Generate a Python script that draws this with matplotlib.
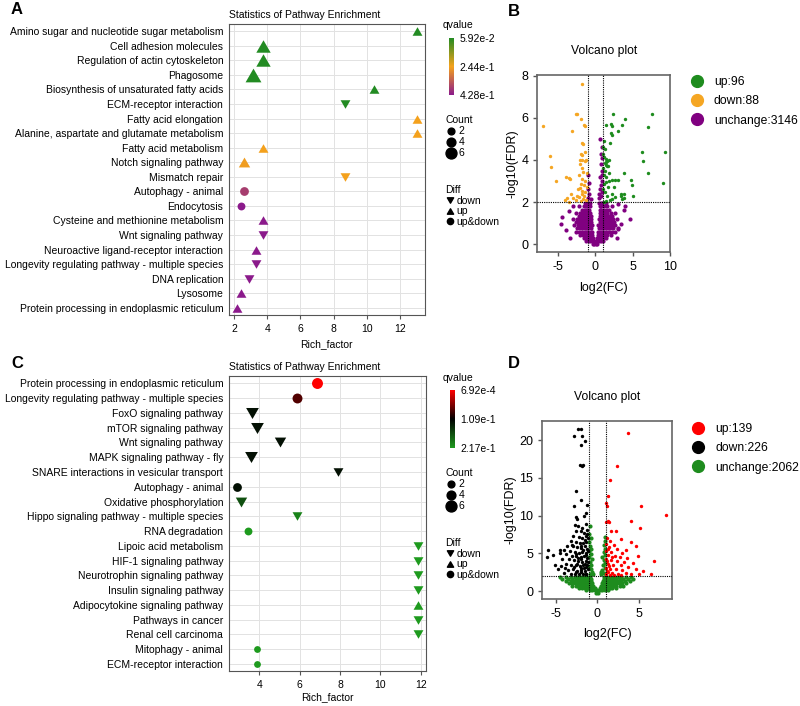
import matplotlib
matplotlib.use("Agg")
import numpy as np
import matplotlib.pyplot as plt
from matplotlib.colors import LinearSegmentedColormap, Normalize
from matplotlib.cm import ScalarMappable
from matplotlib.lines import Line2D
from matplotlib.path import Path

plt.rcParams['font.family'] = ['Liberation Sans', 'DejaVu Sans']
plt.rcParams['axes.unicode_minus'] = False

# -----------------------------
# A: pathway enrichment (group 1)
# -----------------------------
a_pathways = ["Amino sugar and nucleotide sugar metabolism", "Cell adhesion molecules",
              "Regulation of actin cytoskeleton", "Phagosome",
              "Biosynthesis of unsaturated fatty acids", "ECM-receptor interaction",
              "Fatty acid elongation", "Alanine, aspartate and glutamate metabolism",
              "Fatty acid metabolism", "Notch signaling pathway", "Mismatch repair",
              "Autophagy - animal", "Endocytosis", "Cysteine and methionine metabolism",
              "Wnt signaling pathway", "Neuroactive ligand-receptor interaction",
              "Longevity regulating pathway - multiple species", "DNA replication",
              "Lysosome", "Protein processing in endoplasmic reticulum"]
a_rich = [13.0, 3.77, 3.77, 3.16, 10.4, 8.7, 13.0, 13.0, 3.77, 2.6, 8.7,
          2.6, 2.4, 3.77, 3.77, 3.3, 3.3, 2.92, 2.4, 2.18]
a_qvalue = [0.0592, 0.0592, 0.0592, 0.0592, 0.0592, 0.0592, 0.244, 0.244, 0.244, 0.25, 0.244,
            0.38, 0.428, 0.428, 0.428, 0.428, 0.428, 0.428, 0.428, 0.428]
a_count = [2, 5, 5, 6, 2, 2, 2, 2, 2, 3, 2, 4, 3, 2, 2, 2, 2, 2, 2, 2]
a_diff = ["up", "up", "up", "up", "up", "down", "up", "up", "up", "up", "down",
          "up&down", "up&down", "up", "down", "up", "down", "down", "up", "up"]

# -----------------------------
# C: pathway enrichment (group 2)
# -----------------------------
c_pathways = ["Protein processing in endoplasmic reticulum",
              "Longevity regulating pathway - multiple species", "FoxO signaling pathway",
              "mTOR signaling pathway", "Wnt signaling pathway", "MAPK signaling pathway - fly",
              "SNARE interactions in vesicular transport", "Autophagy - animal",
              "Oxidative phosphorylation", "Hippo signaling pathway - multiple species",
              "RNA degradation", "Lipoic acid metabolism", "HIF-1 signaling pathway",
              "Neurotrophin signaling pathway", "Insulin signaling pathway",
              "Adipocytokine signaling pathway", "Pathways in cancer", "Renal cell carcinoma",
              "Mitophagy - animal", "ECM-receptor interaction"]
c_rich = [6.87, 5.85, 3.62, 3.9, 5.02, 3.6, 7.88, 2.9, 3.1, 5.85, 3.45,
          11.87, 11.87, 11.87, 11.87, 11.87, 11.87, 11.87, 3.89, 3.89]
c_qvalue = [0.0007, 0.075, 0.12, 0.12, 0.12, 0.12, 0.12, 0.12, 0.165, 0.2, 0.217,
            0.217, 0.217, 0.217, 0.217, 0.217, 0.217, 0.217, 0.217, 0.217]
c_count = [6, 5, 4, 4, 3, 4, 2, 4, 3, 2, 3, 2, 2, 2, 2, 2, 2, 2, 2, 2]
c_diff = ["up&down", "up&down", "down", "down", "down", "down", "down", "up&down", "down",
          "down", "up&down", "down", "down", "down", "down", "up", "down", "down",
          "up&down", "up&down"]

# -----------------------------
# B: volcano plot (group 1)
# -----------------------------
b_up = [(2.4, 6.19), (7.6, 6.19), (4.0, 5.96), (1.4, 5.64), (2.1, 5.7), (2.2, 5.6), (3.6, 5.64),
        (3.0, 5.36), (2.1, 5.3), (2.2, 5.2), (7.0, 5.56), (1.2, 4.9), (2.0, 4.8), (6.2, 4.37),
        (9.3, 4.37), (6.4, 3.95), (1.0, 4.3), (1.2, 4.15), (1.4, 4.05), (1.6, 3.95), (1.8, 3.98),
        (1.3, 3.85), (1.5, 3.75), (1.7, 3.7), (7.0, 3.38), (3.9, 3.38), (1.4, 3.9), (1.6, 3.7),
        (1.3, 3.5), (1.9, 3.4), (1.2, 3.3), (1.5, 3.2), (3.0, 3.05), (2.6, 3.05), (2.2, 3.05),
        (1.9, 3.0), (1.4, 2.95), (1.2, 2.85), (4.8, 3.05), (9.0, 2.9), (4.9, 2.8), (2.2, 2.4),
        (2.7, 2.25), (1.6, 2.3), (2.3, 2.15), (2.0, 2.1), (1.4, 2.05), (1.2, 2.0), (5.0, 2.27),
        (3.5, 2.27), (3.8, 2.2), (3.6, 2.15), (3.4, 2.4), (3.9, 2.38), (1.1, 2.6), (1.3, 2.5),
        (1.1, 3.6), (1.7, 2.7), (2.5, 2.7), (1.05, 4.6), (1.3, 4.5)]
b_down = [(-1.7, 7.6), (-2.6, 6.19), (-2.4, 6.19), (-1.9, 5.96), (-7.0, 5.59), (-3.15, 5.36),
          (-1.5, 5.64), (-1.4, 5.6), (-1.8, 4.8), (-1.6, 4.75), (-1.3, 4.4), (-6.0, 4.2),
          (-1.9, 4.3), (-1.7, 4.25), (-2.0, 3.98), (-1.7, 4.0), (-1.4, 3.95), (-1.2, 3.98),
          (-5.9, 3.66), (-3.9, 3.2), (-3.5, 3.15), (-3.3, 3.1), (-5.2, 3.0), (-2.0, 3.8),
          (-1.8, 3.6), (-1.6, 3.45), (-2.1, 3.3), (-1.7, 3.1), (-1.35, 3.0), (-1.9, 2.85),
          (-1.5, 2.8), (-2.0, 2.65), (-1.7, 2.55), (-1.3, 2.5), (-1.8, 2.4), (-1.45, 2.3),
          (-2.1, 2.25), (-1.6, 2.15), (-1.25, 2.1), (-1.9, 2.05), (-4.0, 2.1), (-3.7, 2.2),
          (-3.2, 2.4), (-3.0, 2.2), (-3.5, 2.0), (-2.4, 2.3), (-2.6, 2.1), (-1.1, 2.7),
          (-1.15, 3.4), (-2.3, 2.6)]
b_unch_rows_y = [0.0, 0.15, 0.3, 0.45, 0.6, 0.75, 0.9, 1.05, 1.2, 1.35, 1.5, 1.65, 1.8, 1.95]
b_unch_rows_x = [
    [-0.3, -0.1, 0.1, 0.3],
    [-1.2, -0.8, -0.5, -0.25, 0, 0.25, 0.5, 0.8, 1.1],
    [-1.5, -1.1, -0.8, -0.5, -0.3, 0.3, 0.5, 0.8, 1.1, 1.5],
    [-2.0, -1.6, -1.3, -1.0, -0.7, -0.45, 0.45, 0.7, 1.0, 1.3, 1.6, 2.1],
    [-2.6, -2.2, -1.8, -1.5, -1.2, -0.9, -0.6, -0.35, 0.35, 0.6, 0.9, 1.2, 1.5, 1.8, 2.2, 2.6],
    [-2.4, -2.0, -1.7, -1.4, -1.1, -0.8, -0.5, 0.5, 0.8, 1.1, 1.4, 1.7, 2.0, 2.4, 3.0],
    [-2.8, -2.3, -1.9, -1.6, -1.3, -1.0, -0.7, -0.45, 0.45, 0.7, 1.0, 1.3, 1.6, 1.9, 2.3, 2.7],
    [-2.6, -2.1, -1.8, -1.5, -1.2, -0.9, -0.6, 0.6, 0.9, 1.2, 1.5, 1.8, 2.1, 2.5],
    [-2.9, -2.4, -2.0, -1.7, -1.4, -1.1, -0.8, -0.55, 0.55, 0.8, 1.1, 1.4, 1.7, 2.0, 2.4, 2.9],
    [-2.2, -1.8, -1.5, -1.2, -0.9, -0.6, 0.6, 0.9, 1.2, 1.5, 1.9, 2.3],
    [-2.6, -2.0, -1.6, -1.3, -1.0, -0.7, 0.7, 1.0, 1.3, 1.6, 2.1, 2.7],
    [-1.8, -1.4, -1.1, -0.8, 0.6, 0.85, 1.1, 1.5, 1.9],
    [-2.2, -1.5, -1.2, -0.9, -0.65, 0.6, 0.85, 1.2, 1.6, 2.3],
    [-1.3, -0.95, -0.7, 0.5, 0.75, 0.95, 1.4],
]
b_unch_extra = [(-4.5, 0.98), (-3.9, 0.7), (-3.5, 1.58), (3.0, 0.74), (4.0, 1.8), (3.8, 1.62),
                (3.0, 1.9), (-3.3, 0.3), (2.9, 0.3), (-4.4, 1.3), (4.6, 1.2), (3.5, 0.95),
                (-3.0, 1.8), (-0.9, 2.2), (-0.75, 2.4), (-0.95, 2.6), (-0.8, 2.9), (-0.6, 2.15),
                (-0.9, 3.3), (0.5, 2.2), (0.8, 2.3), (0.95, 2.5), (0.6, 2.6), (0.85, 2.8),
                (0.95, 3.0), (0.7, 3.2), (0.9, 3.5), (0.8, 3.8), (0.95, 4.1), (0.75, 4.3),
                (0.9, 4.6), (0.7, 5.0), (0.95, 3.3), (0.5, 2.4)]
b_labels = ["up:96", "down:88", "unchange:3146"]

# -----------------------------
# D: volcano plot (group 2)
# -----------------------------
d_up = [(3.7, 20.9), (2.4, 16.6), (1.5, 14.7), (1.3, 12.6), (1.1, 11.6), (1.2, 11.3), (5.2, 11.3),
        (8.2, 10.1), (4.1, 9.3), (1.1, 9.2), (1.3, 9.3), (1.4, 9.1), (5.1, 8.3), (2.3, 8.0),
        (1.6, 8.0), (4.0, 6.5), (4.6, 6.0), (6.8, 4.0), (5.5, 2.7), (6.4, 2.2), (3.5, 5.5),
        (4.9, 4.6), (2.8, 6.9), (1.2, 7.0), (1.5, 6.6), (1.1, 6.2), (2.0, 6.1), (1.4, 5.8),
        (2.4, 5.6), (1.1, 5.3), (1.7, 5.2), (3.0, 5.1), (1.3, 4.8), (2.1, 4.7), (2.7, 4.5),
        (3.6, 4.4), (1.1, 4.3), (1.6, 4.1), (2.4, 4.0), (3.2, 3.9), (4.3, 3.7), (1.3, 3.6),
        (1.9, 3.5), (2.8, 3.4), (3.7, 3.2), (1.1, 3.1), (1.5, 2.9), (2.2, 2.9), (3.0, 2.8),
        (4.6, 2.9), (1.3, 2.5), (1.8, 2.4), (2.5, 2.3), (3.4, 2.4), (4.0, 2.2), (1.1, 2.2),
        (1.5, 2.1), (2.0, 2.15), (2.9, 2.1), (5.0, 2.3), (1.2, 4.0), (1.4, 3.3), (1.2, 2.7),
        (1.8, 4.5), (1.25, 5.6)]
d_down = [(-2.3, 21.5), (-2.0, 21.5), (-2.85, 20.6), (-1.8, 20.6), (-1.5, 19.9), (-1.9, 19.3),
          (-2.1, 16.7), (-1.7, 16.7), (-1.8, 16.6), (-2.5, 13.2), (-1.9, 12.0), (-2.8, 11.2),
          (-1.25, 11.4), (-2.6, 9.8), (-2.4, 9.5), (-1.6, 9.9), (-1.3, 10.3), (-2.7, 8.8),
          (-2.3, 8.6), (-1.8, 8.4), (-1.4, 8.9), (-2.5, 8.0), (-2.0, 7.9), (-1.6, 7.7),
          (-1.2, 8.1), (-2.9, 7.3), (-2.2, 7.2), (-1.8, 7.0), (-1.4, 7.3), (-1.1, 7.0),
          (-3.2, 6.6), (-2.6, 6.5), (-2.1, 6.4), (-1.7, 6.3), (-1.3, 6.5), (-3.6, 6.0),
          (-2.9, 5.9), (-2.4, 5.8), (-1.9, 5.7), (-1.5, 5.9), (-1.2, 5.6), (-4.0, 5.5),
          (-3.3, 5.3), (-2.7, 5.2), (-2.2, 5.1), (-1.8, 5.2), (-1.4, 5.0), (-1.1, 5.3),
          (-5.95, 5.4), (-6.0, 4.5), (-4.5, 5.5), (-4.5, 5.1), (-3.7, 4.9), (-3.0, 4.7),
          (-2.5, 4.6), (-2.0, 4.5), (-1.6, 4.6), (-1.2, 4.4), (-4.2, 4.3), (-3.4, 4.2),
          (-2.8, 4.1), (-2.3, 4.0), (-1.8, 3.9), (-1.4, 4.0), (-1.1, 3.8), (-5.1, 3.5),
          (-4.3, 3.3), (-3.8, 3.6), (-3.1, 3.5), (-2.6, 3.4), (-2.1, 3.3), (-1.7, 3.4),
          (-1.3, 3.2), (-4.7, 2.9), (-3.5, 2.8), (-2.9, 2.9), (-2.4, 2.7), (-1.9, 2.8),
          (-1.5, 2.6), (-1.15, 2.9), (-4.0, 2.4), (-3.2, 2.3), (-2.7, 2.2), (-2.2, 2.3),
          (-1.7, 2.2), (-1.3, 2.3), (-5.3, 4.8), (-3.9, 3.0), (-2.0, 6.0), (-1.5, 6.8),
          (-1.2, 7.6), (-2.3, 4.4), (-1.9, 4.2), (-1.5, 3.6), (-2.4, 3.6), (-2.0, 2.5),
          (-1.6, 3.0), (-2.8, 3.2), (-1.3, 4.8), (-1.7, 5.4), (-2.6, 4.9), (-3.0, 6.1),
          (-1.4, 2.2), (-2.5, 2.5), (-1.9, 3.1), (-1.2, 3.5)]
d_unch_rows_y = [-0.2, 0.1, 0.4, 0.7, 1.0, 1.3, 1.6, 1.9]
d_unch_rows_x = [
    [-0.2, 0.1],
    [-1.3, -0.9, -0.6, -0.3, 0, 0.3, 0.6, 0.9, 1.3],
    [-2.2, -1.8, -1.5, -1.2, -0.9, -0.6, -0.3, 0.3, 0.6, 0.9, 1.2, 1.5, 1.8, 2.2],
    [-3.0, -2.6, -2.3, -2.0, -1.7, -1.4, -1.1, -0.8, -0.5, 0.5, 0.8, 1.1, 1.4, 1.7, 2.0, 2.3,
     2.7, 3.1],
    [-3.4, -3.0, -2.7, -2.4, -2.1, -1.8, -1.5, -1.2, -0.9, -0.6, 0.6, 0.9, 1.2, 1.5, 1.8, 2.1,
     2.4, 2.7, 3.0, 3.5],
    [-3.8, -3.2, -2.8, -2.5, -2.2, -1.9, -1.6, -1.3, -1.0, -0.7, 0.7, 1.0, 1.3, 1.6, 1.9, 2.2,
     2.5, 2.9, 3.3, 3.9],
    [-4.2, -3.5, -3.0, -2.6, -2.3, -2.0, -1.7, -1.4, -1.1, -0.8, 0.8, 1.1, 1.4, 1.7, 2.0, 2.3,
     2.7, 3.1, 3.7, 4.3],
    [-4.5, -3.8, -3.1, -2.7, -2.4, -2.1, -1.8, -1.5, -1.2, -0.85, 0.85, 1.2, 1.5, 1.8, 2.1, 2.5,
     2.9, 3.4, 4.0],
]
d_unch_extra = [(-0.9, 2.3), (-0.6, 2.5), (-0.8, 2.9), (-1.0, 3.2), (-0.7, 3.5), (-0.9, 3.9),
                (-0.6, 4.2), (-1.0, 4.5), (-0.8, 4.9), (-0.95, 5.3), (-0.7, 5.6), (-0.9, 6.0),
                (-1.0, 6.5), (-0.8, 7.0), (-0.95, 7.6), (-0.9, 8.6), (-0.5, 2.2), (0.5, 2.2),
                (0.8, 2.4), (0.6, 2.8), (0.9, 3.0), (0.7, 3.4), (0.95, 3.7), (0.8, 4.1),
                (0.6, 4.5), (0.9, 4.8), (0.75, 5.2), (0.95, 5.6), (0.85, 6.1), (0.95, 6.6),
                (0.9, 7.2), (0.4, 2.5)]
d_labels = ["up:139", "down:226", "unchange:2062"]

W, H = 800, 706
fig = plt.figure(figsize=(W / 100, H / 100), dpi=100)


def rect(left, top, right, bottom):
    return [left / W, 1 - bottom / H, (right - left) / W, (bottom - top) / H]


# wider-than-tall triangles, like the reference
tri_up = Path([(0, 0.433), (-0.5, -0.433), (0.5, -0.433), (0, 0.433)],
              [Path.MOVETO, Path.LINETO, Path.LINETO, Path.CLOSEPOLY])
tri_down = Path([(0, -0.433), (-0.5, 0.433), (0.5, 0.433), (0, -0.433)],
                [Path.MOVETO, Path.LINETO, Path.LINETO, Path.CLOSEPOLY])
markers = {"down": tri_down, "up": tri_up, "up&down": "o"}


def marker_size(count, diff):
    s = np.interp(count, [2, 4, 6], [24, 40, 62])
    return s if diff == "up&down" else s * 2.1


def enrichment(box, pathways, rich, qv, count, diff, cmap, qlim, xlim, xticks,
               cbar_box, qticks, qlabels, top_px, xlabelpad):
    ax = fig.add_axes(rect(*box))
    norm = Normalize(*qlim)
    ypos = np.arange(len(pathways))
    for i in range(len(pathways)):
        ax.scatter(rich[i], ypos[i], s=marker_size(count[i], diff[i]), marker=markers[diff[i]],
                   color=cmap(norm(qv[i])), linewidths=0, zorder=3)
    ax.set_yticks(ypos)
    ax.set_yticklabels(pathways, fontsize=7.5)
    ax.set_ylim(len(pathways) - 0.5, -0.5)
    ax.set_xlim(*xlim)
    ax.set_xticks(xticks)
    ax.tick_params(axis="x", labelsize=7.5, length=3, color="#555555")
    ax.tick_params(axis="y", length=0, pad=4)
    ax.grid(True, color="#e2e2e2", linewidth=0.7)
    ax.set_axisbelow(True)
    for sp in ax.spines.values():
        sp.set_color("#555555")
        sp.set_linewidth(0.8)
    ax.set_title("Statistics of Pathway Enrichment", loc="left", fontsize=7.5, pad=4)
    ax.set_xlabel("Rich_factor", fontsize=7.5, labelpad=xlabelpad)

    cax = fig.add_axes(rect(*cbar_box))
    cb = fig.colorbar(ScalarMappable(norm=norm, cmap=cmap), cax=cax)
    cb.set_ticks(qticks)
    cb.set_ticklabels(qlabels)
    cb.outline.set_visible(False)
    cax.invert_yaxis()
    cax.tick_params(length=0, labelsize=7.5, pad=4)
    fig.text(443 / W, 1 - (top_px + 1) / H, "qvalue", fontsize=7.5, va="center")

    cnt_handles = [Line2D([], [], marker="o", linestyle="", color="black",
                          markersize=np.sqrt(marker_size(c, "up&down"))) for c in [2, 4, 6]]
    fig.legend(cnt_handles, ["2", "4", "6"], title="Count", loc="upper left",
               bbox_to_anchor=(440 / W, 1 - (top_px + 86) / H), frameon=False,
               fontsize=7.5, title_fontsize=7.5, handletextpad=0.1, labelspacing=0.1,
               borderpad=0, handlelength=1.2, alignment="left")
    diff_handles = [Line2D([], [], marker=m, linestyle="", color="black", markersize=4.5)
                    for m in [tri_down, tri_up, "o"]]
    fig.legend(diff_handles, ["down", "up", "up&down"], title="Diff", loc="upper left",
               bbox_to_anchor=(440 / W, 1 - (top_px + 156) / H), frameon=False,
               fontsize=7.5, title_fontsize=7.5, handletextpad=0.1, labelspacing=0.05,
               borderpad=0, handlelength=1.0, alignment="left")
    return ax


cmap_a = LinearSegmentedColormap.from_list("qa", ["#228b22", "#f4a21c", "#8b1a8b"])
cmap_c = LinearSegmentedColormap.from_list("qc", ["#ff0000", "#000000", "#1e9a1e"])

enrichment((228.7, 24, 425, 315), a_pathways, a_rich, a_qvalue, a_count, a_diff, cmap_a,
           (0.0592, 0.428), (1.68, 13.5), [2, 4, 6, 8, 10, 12],
           (449, 38, 454, 95), [0.0592, 0.244, 0.428], ["5.92e-2", "2.44e-1", "4.28e-1"], 24, 4)
enrichment((228.7, 376, 425.7, 671.3), c_pathways, c_rich, c_qvalue, c_count, c_diff, cmap_c,
           (0.000692, 0.217), (2.48, 12.24), [4, 6, 8, 10, 12],
           (450, 390, 455, 448), [0.000692, 0.109, 0.217], ["6.92e-4", "1.09e-1", "2.17e-1"],
           377, 1.5)


def volcano(box, up, down, rows_y, rows_x, extra, labels, colors, xlim, ylim, xticks, yticks,
            leg_anchor):
    ax = fig.add_axes(rect(*box))
    ux = [x for row in rows_x for x in row] + [p[0] for p in extra]
    uy = [y for y, row in zip(rows_y, rows_x) for _ in row] + [p[1] for p in extra]
    ax.scatter(ux, uy, s=9, color=colors[2], linewidths=0, zorder=2)
    ax.scatter([p[0] for p in down], [p[1] for p in down], s=6, color=colors[1],
               linewidths=0, zorder=3)
    ax.scatter([p[0] for p in up], [p[1] for p in up], s=6, color=colors[0],
               linewidths=0, zorder=3)
    ax.axvline(-1, color="black", linestyle=(0, (1, 1)), linewidth=0.8, zorder=4)
    ax.axvline(1, color="black", linestyle=(0, (1, 1)), linewidth=0.8, zorder=4)
    ax.axhline(2, color="black", linestyle=(0, (1, 1)), linewidth=0.8, zorder=4)
    ax.set_xlim(*xlim)
    ax.set_ylim(*ylim)
    ax.set_xticks(xticks)
    ax.set_yticks(yticks)
    ax.tick_params(labelsize=9, length=3, color="#555555", width=1)
    for sp in ax.spines.values():
        sp.set_color("#666666")
        sp.set_linewidth(1.2)
    ax.set_title("Volcano plot", fontsize=8.7, pad=15)
    ax.set_xlabel("log2(FC)", fontsize=9, labelpad=6)
    ax.set_ylabel("-log10(FDR)", fontsize=9, labelpad=2)
    handles = [Line2D([], [], marker="o", linestyle="", color=c, markersize=8.5)
               for c in colors]
    fig.legend(handles, labels, loc="upper left", bbox_to_anchor=leg_anchor, frameon=False,
               fontsize=8.7, handletextpad=0.9, labelspacing=0.6, borderpad=0, handlelength=1.0)
    return ax


volcano((537.3, 75, 670, 252.3), b_up, b_down, b_unch_rows_y, b_unch_rows_x, b_unch_extra,
        b_labels, ["#1e8c1e", "#f5a623", "#800080"], (-7.72, 10.0), (-0.38, 8.03),
        [-5, 0, 5, 10], [0, 2, 4, 6, 8], (685 / W, 1 - 70 / H))
volcano((542.3, 420.7, 672.3, 599), d_up, d_down, d_unch_rows_y, d_unch_rows_x, d_unch_extra,
        d_labels, ["#ff0000", "#000000", "#1e8c1e"], (-6.6, 9.0), (-1.06, 22.57),
        [-5, 0, 5], [0, 5, 10, 15, 20], (686 / W, 1 - 417 / H))

for letter, x, y in [("A", 17, 9), ("B", 514, 12), ("C", 17, 363), ("D", 514, 363)]:
    fig.text(x / W, 1 - y / H, letter, fontsize=12, fontweight="bold", ha="center",
             va="center")

fig.savefig("out.png", dpi=100)
